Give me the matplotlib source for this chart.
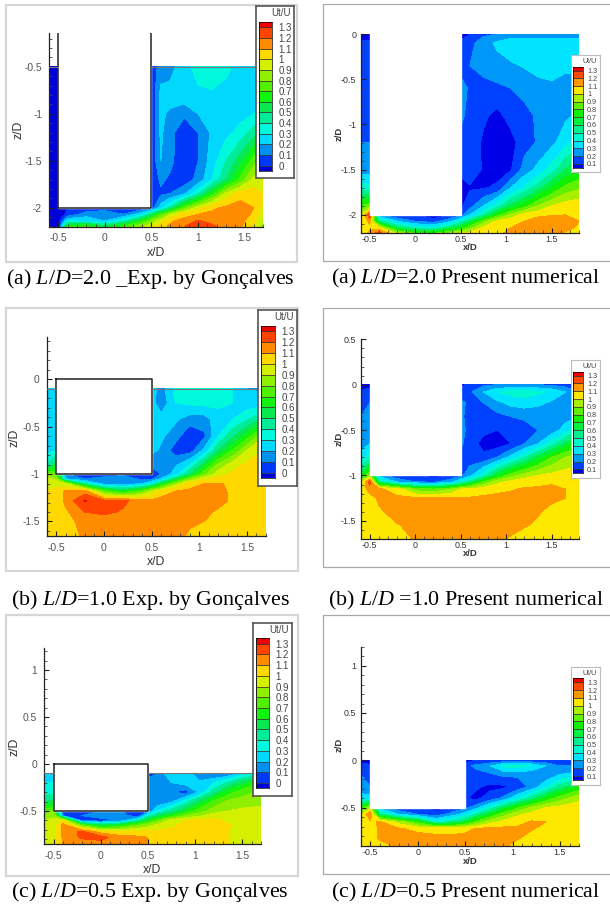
import numpy as np
import matplotlib
matplotlib.use("Agg")
import matplotlib.pyplot as plt
from matplotlib.patches import Rectangle

W, H = 610, 905
plt.rcParams['font.family'] = ['Liberation Sans', 'DejaVu Sans']
plt.rcParams['mathtext.fontset'] = 'custom'
plt.rcParams['mathtext.it'] = 'Liberation Serif:italic'
plt.rcParams['mathtext.rm'] = 'Liberation Serif'

# band colours, low to high
colors_exp = ['#0000d8', '#0038f8', '#0090f0', '#00d8ff', '#00f8dc', '#00ec98', '#08e850', '#10f410',
              '#50f000', '#90ee00', '#d4f000', '#ffd800', '#ff8c00', '#ff4400', '#f00000']
colors_num = ['#0000e8', '#0040ff', '#0098f8', '#00e4ff', '#00f8d0', '#00f090', '#00f040', '#10f000',
              '#60f000', '#a8f000', '#ffe800', '#ff9800', '#ff4800', '#f00000']
levels_exp = np.arange(-1, 15) / 10
levels_num = np.arange(0, 15) / 10
labels_exp = ['0', '0.1', '0.2', '0.3', '0.4', '0.5', '0.6', '0.7', '0.8', '0.9', '1', '1.1', '1.2', '1.3']
labels_num = labels_exp[1:]

# (a) L/D=2.0 experiment
x_a_exp = [-0.6, -0.5, -0.4, -0.2, 0, 0.2, 0.4, 0.5, 0.6, 0.7, 0.85, 1.0, 1.15, 1.3, 1.45, 1.6, 1.7]
z_a_exp = [-0.5, -0.8, -1.0, -1.2, -1.5, -1.7, -1.85, -2.0, -2.07, -2.14, -2.2]
u_a_exp = [
    [-.05, -.05, -.05, -.05, -.05, -.05, -.05, .02, .15, .15, .28, .32, .34, .32, .27, .25, .25],
    [-.05, -.05, -.05, -.05, -.05, -.05, -.05, .02, .23, .25, .27, .29, .29, .27, .23, .2, .22],
    [-.05, -.05, -.05, -.05, -.05, -.05, -.05, .02, .22, .18, .12, .2, .25, .25, .27, .3, .35],
    [-.05, -.05, -.05, -.05, -.05, -.05, -.05, .02, .22, .13, .03, .1, .22, .27, .33, .45, .55],
    [-.05, -.05, -.05, -.05, -.05, -.05, -.05, .02, .2, .13, .02, .1, .25, .4, .55, .75, .85],
    [-.05, -.05, -.05, -.05, -.05, -.05, -.05, .02, .12, .08, .04, .13, .3, .5, .72, .93, 1.0],
    [-.05, -.05, -.05, -.05, -.05, -.05, -.05, .02, .08, .1, .18, .38, .65, .92, 1.05, 1.05, 1.0],
    [-.05, -.05, 0, .02, .02, .02, .02, .03, .25, .42, .75, .95, 1.08, 1.12, 1.15, 1.1, .95],
    [-.05, -.05, .02, .15, .2, .1, .28, .5, .72, .9, 1.05, 1.1, 1.12, 1.14, 1.15, 1.08, .92],
    [-.05, -.05, .3, .28, .2, .38, .65, .82, .95, 1.08, 1.14, 1.21, 1.17, 1.14, 1.14, 1.02, .88],
    [-.05, -.05, .7, .72, .55, .72, .88, .97, 1.05, 1.12, 1.2, 1.27, 1.22, 1.15, 1.12, .98, .85],
]

# (a) L/D=2.0 numerical
x_a_num = [-0.6, -0.5, -0.4, -0.2, 0, 0.2, 0.4, 0.5, 0.6, 0.75, 0.9, 1.05, 1.2, 1.35, 1.5, 1.65, 1.8]
z_a_num = [0, -0.1, -0.35, -0.6, -0.9, -1.2, -1.5, -1.7, -1.9, -2.0, -2.07, -2.14, -2.2]
u_a_num = [
    [.05, .05, .1, .1, .1, .1, .1, .05, .1, .18, .2, .22, .22, .22, .22, .22, .22],
    [.12, .12, .1, .1, .1, .1, .1, .12, .17, .25, .32, .38, .4, .4, .4, .4, .38],
    [.15, .15, .1, .1, .1, .1, .1, .15, .2, .22, .26, .28, .31, .34, .36, .31, .31],
    [.15, .2, .1, .1, .1, .1, .1, .25, .18, .18, .18, .2, .22, .26, .27, .28, .28],
    [.15, .2, .1, .1, .1, .1, .1, .22, .17, .12, .07, .14, .18, .21, .25, .28, .32],
    [.2, .2, .1, .1, .1, .1, .1, .17, .17, .08, .03, .06, .16, .21, .27, .36, .45],
    [.25, .25, .1, .1, .1, .1, .1, .12, .15, .09, .05, .09, .24, .33, .45, .6, .7],
    [.45, .45, .1, .1, .1, .1, .1, .07, .09, .09, .12, .3, .42, .55, .7, .83, .88],
    [.8, .85, .1, .1, .1, .1, .1, .08, .16, .3, .45, .62, .75, .9, 1.0, 1.05, 1.07],
    [.95, 1.3, .2, .1, .1, .03, .1, .15, .3, .5, .75, .92, 1.05, 1.08, 1.09, 1.1, 1.1],
    [1.02, 1.12, .55, .3, .2, .15, .3, .45, .6, .85, 1.02, 1.07, 1.1, 1.14, 1.18, 1.17, 1.1],
    [1.02, 1.08, 1.02, .6, .45, .4, .6, .7, .85, 1.02, 1.07, 1.1, 1.12, 1.16, 1.18, 1.16, 1.07],
    [1.02, 1.12, 1.25, .95, .8, .78, .92, 1.0, 1.03, 1.05, 1.08, 1.12, 1.15, 1.16, 1.16, 1.08, 1.06],
]

# (b) L/D=1.0 experiment
x_b_exp = [-0.6, -0.5, -0.4, -0.2, 0, 0.2, 0.4, 0.5, 0.6, 0.75, 0.9, 1.05, 1.2, 1.35, 1.5, 1.7]
z_b_exp = [-0.1, -0.25, -0.42, -0.6, -0.75, -0.9, -1.0, -1.05, -1.1, -1.18, -1.28, -1.4, -1.5, -1.65]
u_b_exp = [
    [.25, .25, .2, .2, .2, .2, .2, .25, .15, .33, .35, .4, .35, .3, .2, .18],
    [.25, .25, .2, .2, .2, .2, .2, .25, .12, .3, .32, .33, .32, .3, .24, .24],
    [.25, .25, .2, .2, .2, .2, .2, .25, .25, .22, .15, .15, .26, .3, .38, .55],
    [.25, .25, .2, .2, .2, .2, .2, .25, .22, .14, .02, .08, .3, .48, .65, .9],
    [.27, .3, .2, .2, .2, .2, .2, .23, .18, .05, .05, .22, .5, .7, .9, 1.02],
    [.4, .55, .2, .2, .2, .2, .2, .12, .14, .18, .3, .55, .82, .95, 1.02, 1.04],
    [.85, .75, .1, .02, .03, .05, .03, .02, .1, .25, .5, .78, .95, 1.02, 1.03, 1.04],
    [.95, .85, .2, .1, .15, .2, .06, .08, .22, .5, .8, .97, 1.04, 1.05, 1.05, 1.04],
    [.98, .98, .9, .4, .15, .12, .2, .32, .55, .85, 1.05, 1.1, 1.105, 1.09, 1.06, 1.04],
    [1.0, 1.02, 1.12, 1.15, .75, .6, .75, .92, 1.03, 1.1, 1.12, 1.14, 1.16, 1.06, 1.05, 1.04],
    [1.0, 1.02, 1.13, 1.31, 1.22, 1.22, 1.15, 1.12, 1.14, 1.15, 1.15, 1.16, 1.14, 1.08, 1.05, 1.04],
    [1.0, 1.03, 1.08, 1.2, 1.22, 1.19, 1.15, 1.13, 1.14, 1.14, 1.14, 1.13, 1.08, 1.05, 1.04, 1.03],
    [1.0, 1.02, 1.05, 1.15, 1.15, 1.14, 1.13, 1.13, 1.13, 1.13, 1.11, 1.1, 1.04, 1.03, 1.03, 1.03],
    [1.0, 1.01, 1.02, 1.13, 1.13, 1.13, 1.13, 1.12, 1.11, 1.12, 1.09, 1.03, 1.03, 1.03, 1.03, 1.03],
]

# (b) L/D=1.0 numerical
x_b_num = x_a_num
z_b_num = [0, -0.08, -0.2, -0.35, -0.5, -0.65, -0.8, -1.0, -1.07, -1.15, -1.25, -1.4, -1.55, -1.7]
u_b_num = [
    [.05, .05, .1, .1, .1, .1, .1, .05, .15, .18, .2, .2, .2, .2, .18, .15, .15],
    [.12, .15, .1, .1, .1, .1, .1, .15, .18, .3, .4, .44, .45, .42, .38, .3, .2],
    [.2, .2, .1, .1, .1, .1, .1, .22, .18, .2, .27, .33, .35, .33, .28, .24, .22],
    [.2, .22, .1, .1, .1, .1, .1, .22, .16, .15, .17, .2, .22, .21, .22, .25, .3],
    [.22, .25, .1, .1, .1, .1, .1, .25, .15, .12, .1, .11, .15, .2, .24, .35, .5],
    [.25, .3, .1, .1, .1, .1, .1, .22, .14, .07, .05, .1, .2, .3, .45, .62, .75],
    [.35, .45, .1, .1, .1, .1, .1, .15, .14, .12, .2, .33, .48, .65, .8, .9, .95],
    [.65, .9, .25, .12, .12, .05, .12, .17, .27, .45, .68, .85, .95, 1.0, 1.03, 1.05, 1.05],
    [.95, 1.25, .55, .28, .2, .17, .27, .4, .55, .8, .97, 1.03, 1.06, 1.08, 1.09, 1.08, 1.06],
    [1.02, 1.15, 1.12, 1.05, .85, .8, .9, 1.0, 1.02, 1.05, 1.07, 1.09, 1.11, 1.11, 1.115, 1.1, 1.06],
    [1.03, 1.05, 1.12, 1.12, 1.12, 1.12, 1.12, 1.11, 1.11, 1.12, 1.13, 1.13, 1.13, 1.13, 1.12, 1.1, 1.05],
    [1.03, 1.05, 1.08, 1.15, 1.14, 1.13, 1.13, 1.13, 1.13, 1.13, 1.13, 1.12, 1.11, 1.11, 1.07, 1.05, 1.04],
    [1.03, 1.04, 1.05, 1.09, 1.14, 1.14, 1.14, 1.14, 1.14, 1.14, 1.14, 1.13, 1.11, 1.08, 1.05, 1.04, 1.03],
    [1.03, 1.03, 1.05, 1.06, 1.11, 1.15, 1.15, 1.15, 1.14, 1.13, 1.12, 1.09, 1.05, 1.04, 1.03, 1.03, 1.03],
]

# (c) L/D=0.5 experiment
x_c_exp = x_b_exp
z_c_exp = [-0.1, -0.2, -0.3, -0.4, -0.5, -0.55, -0.6, -0.65, -0.72, -0.78, -0.855]
u_c_exp = [
    [.25, .28, .2, .2, .2, .2, .2, .05, .1, .3, .25, .12, .08, .1, .25, .35],
    [.3, .3, .2, .2, .2, .2, .2, .15, .12, .2, .25, .22, .3, .42, .55, .7],
    [.35, .37, .2, .2, .2, .2, .2, .2, .15, .1, .05, .22, .45, .65, .75, .82],
    [.5, .52, .2, .2, .2, .2, .2, .12, .12, .18, .35, .55, .72, .82, .85, .88],
    [.75, .8, .02, .05, .1, .12, .02, .1, .3, .45, .6, .75, .85, .9, .92, .92],
    [.85, .88, .1, .1, .2, .15, .02, .35, .5, .65, .8, .88, .95, .97, .95, .92],
    [.9, .92, 1.0, .05, .02, .1, .4, .6, .75, .95, 1.0, 1.02, 1.03, .98, .95, .93],
    [.92, .92, 1.15, .75, .5, .6, .78, .85, .92, .98, 1.02, 1.03, 1.04, 1.01, .95, .92],
    [.92, .95, 1.14, 1.22, 1.05, 1.02, 1.02, 1.02, 1.02, 1.03, 1.03, 1.03, 1.03, 1.0, .95, .92],
    [.9, .95, 1.12, 1.22, 1.24, 1.14, 1.12, 1.1, 1.04, 1.03, 1.03, 1.03, 1.03, 1.0, .95, .92],
    [.9, .95, 1.1, 1.13, 1.15, 1.14, 1.13, 1.1, 1.04, 1.03, 1.03, 1.03, 1.03, 1.0, .93, .9],
]

# (c) L/D=0.5 numerical
x_c_num = [-0.6, -0.5, -0.4, -0.2, 0, 0.2, 0.4, 0.5, 0.6, 0.75, 0.9, 1.05, 1.2, 1.35, 1.5, 1.7]
z_c_num = [0, -0.06, -0.15, -0.28, -0.4, -0.5, -0.57, -0.65, -0.72, -0.82, -0.905]
u_c_num = [
    [.05, .05, .1, .1, .1, .1, .1, .05, .1, .12, .12, .12, .12, .12, .1, .1],
    [.15, .12, .1, .1, .1, .1, .1, .15, .22, .28, .42, .45, .4, .3, .2, .2],
    [.2, .12, .1, .1, .1, .1, .1, .2, .15, .18, .22, .22, .22, .22, .3, .35],
    [.22, .2, .1, .1, .1, .1, .1, .2, .12, .08, .08, .13, .23, .38, .55, .72],
    [.35, .35, .1, .1, .1, .1, .1, .12, .07, .13, .22, .38, .55, .72, .85, .97],
    [.75, .95, .25, .12, .12, .05, .12, .17, .24, .42, .62, .78, .92, 1.0, 1.03, 1.05],
    [.95, 1.2, .55, .3, .2, .15, .27, .35, .48, .68, .85, .98, 1.03, 1.05, 1.06, 1.06],
    [1.0, 1.08, 1.11, .95, .75, .42, .55, .65, .8, .95, 1.03, 1.06, 1.11, 1.1, 1.07, 1.06],
    [1.02, 1.04, 1.12, 1.11, 1.07, 1.05, 1.07, 1.08, 1.1, 1.12, 1.12, 1.12, 1.11, 1.07, 1.05, 1.05],
    [1.02, 1.04, 1.12, 1.13, 1.14, 1.13, 1.12, 1.12, 1.13, 1.13, 1.12, 1.11, 1.06, 1.04, 1.03, 1.03],
    [1.0, 1.03, 1.05, 1.12, 1.14, 1.15, 1.15, 1.15, 1.15, 1.14, 1.12, 1.06, 1.04, 1.03, 1.03, 1.03],
]


def px_axes(fig, x0, y0, x1, y1, **kw):
    # axes placed by pixel box, y counted from the top of the image
    return fig.add_axes([x0 / W, 1 - y1 / H, (x1 - x0) / W, (y1 - y0) / H], **kw)


def draw_frame(fig, x0, y0, x1, y1, color, lw):
    fig.add_artist(Rectangle((x0 / W, 1 - y1 / H), (x1 - x0) / W, (y1 - y0) / H, transform=fig.transFigure,
                             fc='white', ec=color, lw=lw, zorder=-5))


def draw_legend(fig, box, bar, levels, colors, labels, is_exp):
    fs = 7.0 if is_exp else 5.2
    ec = '#555555' if is_exp else '#bdbdbd'
    lax = px_axes(fig, *box, zorder=6)
    lax.set_xticks([])
    lax.set_yticks([])
    for s in lax.spines.values():
        s.set_color(ec)
        s.set_linewidth(1.2 if is_exp else 0.8)
    fig.text((box[2] - 3) / W, 1 - (box[1] + (7 if is_exp else 6.5)) / H, 'Ut/U', fontsize=fs, ha='right',
             va='center', color='#444444', zorder=8)
    bax = px_axes(fig, *bar, zorder=7)
    tick_vals = levels[1:-1]
    bax.bar(np.full(len(colors), 0.5), np.diff(levels), bottom=levels[:-1], width=1, color=colors,
            edgecolor='#333333', linewidth=0.5)
    bax.set_xlim(0, 1)
    bax.set_ylim(tick_vals[0] - 0.05, tick_vals[-1] + 0.05)
    bax.set_xticks([])
    bax.yaxis.tick_right()
    bax.set_yticks(tick_vals)
    bax.set_yticklabels(labels, fontsize=fs, color='#444444')
    bax.tick_params(axis='y', length=0, pad=4.5 if is_exp else 3)
    for s in bax.spines.values():
        s.set_linewidth(0.5)


def draw_panel(fig, p):
    is_exp = p['exp']
    ax = px_axes(fig, *p['axes'], zorder=2)
    ax.patch.set_alpha(0)
    levels = levels_exp if is_exp else levels_num
    colors = colors_exp if is_exp else colors_num
    ax.contourf(p['x'], p['z'], np.array(p['u']), levels=levels, colors=colors)
    xmin, xmax = p['xlim']
    zbot, ztop = p['zlim']
    # the block is left blank
    bb, bt = p['block_bottom'], p['block_top']
    ax.add_patch(Rectangle((-0.5, bb), 1.0, bt - bb, fc='white', ec='white', lw=1.0, zorder=3))
    if is_exp:
        # walls stay open at the top when they run up to the end of the axis
        if bt >= ztop:
            ax.plot([-0.5, -0.5, 0.5, 0.5], [bt, bb, bb, bt], color='#222222', lw=1.1, zorder=4)
        else:
            ax.plot([-0.5, -0.5, 0.5, 0.5, -0.5], [bt, bb, bb, bt, bt], color='#222222', lw=1.1, zorder=4)
        ax.plot([0.5, xmax], [p['flow_top'], p['flow_top']], color='#777777', lw=0.8, zorder=4)
        ax.plot([xmin, -0.5], [p['flow_top'], p['flow_top']], color='#777777', lw=0.8, zorder=4)
    ax.set_xlim(xmin, xmax)
    ax.set_ylim(zbot, ztop)
    for s in ['top', 'right']:
        ax.spines[s].set_visible(False)
    fs = 7.4 if is_exp else 6.4
    color = '#555555' if is_exp else '#333333'
    ax.set_xticks(p['xticks'])
    ax.set_xticklabels(p['xticklabels'], fontsize=fs, color=color)
    ax.set_yticks(p['zticks'])
    ax.set_yticklabels(p['zticklabels'], fontsize=fs, color=color)
    ax.set_xticks(p['xminor'], minor=True)
    ax.set_yticks(p['zminor'], minor=True)
    ax.tick_params(which='major', direction='in', length=3.5, width=0.8, color='#222222')
    ax.tick_params(axis='x', which='major', pad=5 if is_exp else 1.5)
    ax.tick_params(axis='y', which='major', pad=5 if is_exp else 3)
    ax.tick_params(which='minor', direction='in', length=2, width=0.6, color='#444444')
    for s in ['left', 'bottom']:
        ax.spines[s].set_linewidth(0.9)
        ax.spines[s].set_color('#222222')
    lab = dict(fontsize=8.8 if is_exp else 6.8, color='#333333', fontweight='normal' if is_exp else 'bold')
    fig.text(p['xlabel'][0] / W, 1 - p['xlabel'][1] / H, 'x/D', ha='center', va='center', **lab)
    fig.text(p['ylabel'][0] / W, 1 - p['ylabel'][1] / H, 'z/D', ha='center', va='center', rotation=90, **lab)
    draw_legend(fig, p['leg_box'], p['leg_bar'], levels, colors, labels_exp if is_exp else labels_num, is_exp)
    fig.text(p['cap_pos'][0] / W, 1 - p['cap_pos'][1] / H, p['caption'], family='Liberation Serif',
             fontsize=15.8, ha='center', va='center', color='black')


def ticks_between(lo, hi, step):
    return np.arange(np.ceil(lo / step) * step, hi + 1e-6, step)


xticks = [-0.5, 0, 0.5, 1, 1.5]
xticklabels = ['-0.5', '0', '0.5', '1', '1.5']

panels = [
    dict(exp=True, axes=(49, 33, 263.3, 226.5), xlim=(-0.6, 1.7), zlim=(-2.2, -0.141), x=x_a_exp, z=z_a_exp, u=u_a_exp,
         block_bottom=-2.0, block_top=-0.141, flow_top=-0.5, zticks=[-2, -1.5, -1, -0.5], zticklabels=['-2', '-1.5', '-1', '-0.5'],
         frame=(6, 5, 297, 262), leg_box=(256, 6, 294, 178), leg_bar=(259, 22, 272, 171), xlabel=(156, 253), ylabel=(19, 130),
         cap_pos=(150, 279), caption=r'(a) $\mathit{L/D}$=2.0 _Exp. by Gonçalves'),
    dict(exp=False, axes=(360.7, 34, 579, 233), xlim=(-0.6, 1.8), zlim=(-2.2, 0), x=x_a_num, z=z_a_num, u=u_a_num,
         block_bottom=-2.0, block_top=0.02, flow_top=0, zticks=[-2, -1.5, -1, -0.5, 0], zticklabels=['-2', '-1.5', '-1', '-0.5', '0'],
         frame=(323, 4, 612, 261), leg_box=(571, 55, 599.5, 172), leg_bar=(573.3, 66.7, 583, 167.7), xlabel=(470, 248), ylabel=(339, 134),
         cap_pos=(466, 278), caption=r'(a) $\mathit{L/D}$=2.0 Present numerical'),
    dict(exp=True, axes=(46.7, 336.7, 266, 535.7), xlim=(-0.6, 1.7), zlim=(-1.65, 0.45), x=x_b_exp, z=z_b_exp, u=u_b_exp,
         block_bottom=-1.0, block_top=0, flow_top=-0.1, zticks=[-1.5, -1, -0.5, 0], zticklabels=['-1.5', '-1', '-0.5', '0'],
         frame=(6, 308, 298, 571), leg_box=(257.7, 310, 296.7, 485.7), leg_bar=(261, 326, 275, 478), xlabel=(156, 562), ylabel=(15, 438),
         cap_pos=(150, 600), caption=r'(b) $\mathit{L/D}$=1.0 Exp. by Gonçalves'),
    dict(exp=False, axes=(360.7, 339.3, 579, 539), xlim=(-0.6, 1.8), zlim=(-1.7, 0.5), x=x_b_num, z=z_b_num, u=u_b_num,
         block_bottom=-1.0, block_top=0.02, flow_top=0, zticks=[-1.5, -1, -0.5, 0, 0.5], zticklabels=['-1.5', '-1', '-0.5', '0', '0.5'],
         frame=(323, 308, 612, 567), leg_box=(571, 360, 599.5, 478), leg_bar=(573.3, 371.7, 583, 473.3), xlabel=(470, 554), ylabel=(339, 439),
         cap_pos=(466, 600), caption=r'(b) $\mathit{L/D}$ =1.0 Present numerical'),
    dict(exp=True, axes=(44.3, 648.3, 261, 844.3), xlim=(-0.6, 1.7), zlim=(-0.855, 1.23), x=x_c_exp, z=z_c_exp, u=u_c_exp,
         block_bottom=-0.5, block_top=0, flow_top=-0.1, zticks=[-0.5, 0, 0.5, 1], zticklabels=['-0.5', '0', '0.5', '1'],
         frame=(6, 615, 298, 876), leg_box=(252.7, 622.7, 291.7, 795.7), leg_bar=(256, 638.3, 269, 788.3), xlabel=(152, 870), ylabel=(14, 747),
         cap_pos=(150, 892), caption=r'(c) $\mathit{L/D}$=0.5 Exp. by Gonçalves'),
    dict(exp=False, axes=(360.7, 646.7, 579, 846), xlim=(-0.6, 1.7), zlim=(-0.905, 1.2), x=x_c_num, z=z_c_num, u=u_c_num,
         block_bottom=-0.5, block_top=0.02, flow_top=0, zticks=[-0.5, 0, 0.5, 1], zticklabels=['-0.5', '0', '0.5', '1'],
         frame=(323, 615, 612, 874), leg_box=(571, 667.3, 599.5, 785.3), leg_bar=(573.3, 678.3, 583, 780), xlabel=(470, 861), ylabel=(339, 745),
         cap_pos=(466, 892), caption=r'(c) $\mathit{L/D}$=0.5 Present numerical'),
]

fig = plt.figure(figsize=(W / 100, H / 100), dpi=100, facecolor='white')

for p in panels:
    draw_frame(fig, *p['frame'], '#d6d6d6' if p['exp'] else '#a8a8a8', 1.6 if p['exp'] else 0.9)
    p['xticks'] = xticks
    p['xticklabels'] = xticklabels
    p['xminor'] = ticks_between(p['xlim'][0], p['xlim'][1], 0.1)
    p['zminor'] = ticks_between(p['zlim'][0], p['zlim'][1], 0.1)
    draw_panel(fig, p)

fig.savefig('out.png', dpi=100)
